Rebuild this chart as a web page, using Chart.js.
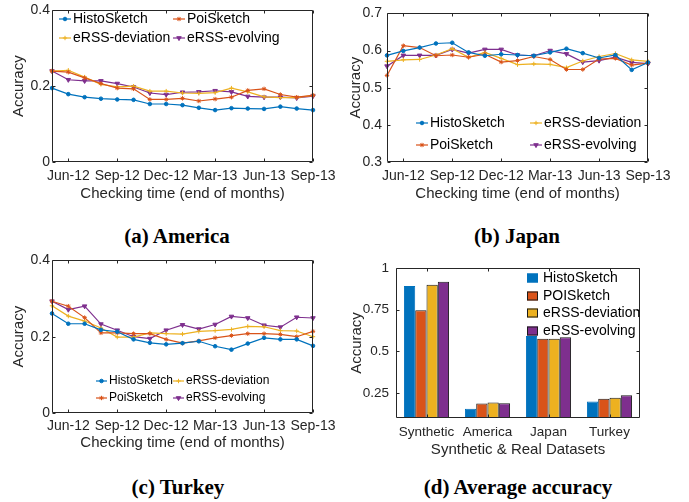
<!DOCTYPE html>
<html>
<head>
<meta charset="utf-8">
<script src="https://cdn.jsdelivr.net/npm/chart.js@4/dist/chart.umd.min.js"></script>
<style>
  html, body { margin: 0; padding: 0; background: #fff; }
  body { width: 689px; height: 502px; position: relative; overflow: hidden; }
  canvas { position: absolute; }
  .cap { position: absolute; width: 320px; text-align: center; font-family: "Liberation Serif", "DejaVu Serif", serif; font-weight: bold; font-size: 21px; color: #000; line-height: 24px; }
</style>
</head>
<body>
<canvas id="ca" width="345" height="205" style="left:0px;top:0px"></canvas>
<canvas id="cb" width="344" height="205" style="left:345px;top:0px"></canvas>
<canvas id="cc" width="345" height="210" style="left:0px;top:250px"></canvas>
<canvas id="cd" width="344" height="210" style="left:345px;top:250px"></canvas>
<div class="cap" style="left:17px;top:224px">(a) America</div>
<div class="cap" style="left:357px;top:224px">(b) Japan</div>
<div class="cap" style="left:18px;top:475px">(c) Turkey</div>
<div class="cap" style="left:358px;top:475px">(d) Average accuracy</div>
<script>
// ---------- data ----------
const months = ['May-12','Jun-12','Jul-12','Aug-12','Sep-12','Oct-12','Nov-12','Dec-12','Jan-13','Feb-13','Mar-13','Apr-13','May-13','Jun-13','Jul-13','Aug-13','Sep-13'];
const monthTicks = ['Jun-12','Sep-12','Dec-12','Mar-13','Jun-13','Sep-13'];
const lineNames = ['HistoSketch','PoiSketch','eRSS-deviation','eRSS-evolving'];
const barNames = ['HistoSketch','POISketch','eRSS-deviation','eRSS-evolving'];

const americaHisto = [0.195,0.179,0.171,0.167,0.165,0.164,0.153,0.153,0.150,0.143,0.137,0.142,0.141,0.140,0.146,0.141,0.137];
const americaPoi   = [0.240,0.237,0.222,0.207,0.195,0.193,0.165,0.165,0.168,0.161,0.166,0.171,0.189,0.193,0.178,0.171,0.176];
const americaDev   = [0.240,0.242,0.224,0.205,0.198,0.200,0.187,0.187,0.182,0.181,0.183,0.195,0.185,0.172,0.170,0.170,0.176];
const americaEvol  = [0.240,0.217,0.214,0.214,0.207,0.198,0.182,0.178,0.184,0.185,0.188,0.185,0.173,0.171,0.171,0.169,0.174];

const japanHisto = [0.587,0.599,0.608,0.619,0.621,0.595,0.586,0.590,0.588,0.586,0.595,0.605,0.593,0.580,0.588,0.548,0.568];
const japanPoi   = [0.533,0.613,0.608,0.586,0.588,0.582,0.590,0.569,0.573,0.584,0.576,0.549,0.549,0.577,0.579,0.561,0.566];
const japanDev   = [0.571,0.575,0.576,0.588,0.605,0.582,0.595,0.579,0.562,0.564,0.563,0.554,0.572,0.584,0.592,0.575,0.571];
const japanEvol  = [0.558,0.587,0.587,0.587,0.603,0.593,0.603,0.603,0.588,0.586,0.600,0.591,0.569,0.573,0.582,0.568,0.565];

const turkeyHisto = [0.261,0.234,0.234,0.218,0.213,0.193,0.184,0.180,0.183,0.188,0.175,0.166,0.182,0.197,0.193,0.193,0.176];
const turkeyPoi   = [0.293,0.280,0.250,0.210,0.210,0.208,0.208,0.193,0.183,0.189,0.197,0.203,0.208,0.208,0.206,0.200,0.214];
const turkeyDev   = [0.281,0.254,0.241,0.223,0.199,0.199,0.210,0.208,0.207,0.214,0.216,0.219,0.227,0.226,0.216,0.215,0.200];
const turkeyEvol  = [0.293,0.271,0.280,0.233,0.217,0.200,0.195,0.217,0.231,0.220,0.232,0.253,0.249,0.230,0.225,0.251,0.249];

const avgCategories = ['Synthetic','America','Japan','Turkey'];
const avgHisto = [0.892,0.155,0.592,0.199];
const avgPoi   = [0.747,0.187,0.576,0.215];
const avgDev   = [0.900,0.193,0.576,0.221];
const avgEvol  = [0.918,0.189,0.584,0.237];

const yTicksAC = [0, 0.2, 0.4];
const yTicksB  = [0.3, 0.4, 0.5, 0.6, 0.7];
const yTicksD  = [0.25, 0.5, 0.75, 1];

// ---------- styling ----------
const COLORS = ['#0072BD','#D95319','#EDB120','#7E2F8E'];
const SANS = '"Liberation Sans", Arial, Helvetica, sans-serif';
const AX = '#262626';

const axesBox = {
  id: 'axesBox',
  afterDatasetsDraw(chart) {
    const {ctx, chartArea: a} = chart;
    const xs = chart.scales.x, ys = chart.scales.y;
    const L = 3;
    const l = Math.round(a.left) + 0.5, r = Math.round(a.right) - 0.5;
    const t = Math.round(a.top) + 0.5, b = Math.round(a.bottom) - 0.5;
    ctx.save();
    ctx.strokeStyle = AX; ctx.lineWidth = 1;
    ctx.beginPath();
    ctx.rect(l, t, r - l, b - t);
    xs.ticks.forEach((tk, i) => {
      const p = Math.round(xs.getPixelForTick(i)) + 0.5;
      ctx.moveTo(p, b); ctx.lineTo(p, b - L);
      ctx.moveTo(p, t); ctx.lineTo(p, t + L);
    });
    ys.ticks.forEach((tk, i) => {
      const p = Math.round(ys.getPixelForTick(i)) + 0.5;
      ctx.moveTo(l, p); ctx.lineTo(l + L, p);
      ctx.moveTo(r, p); ctx.lineTo(r - L, p);
    });
    ctx.stroke();
    ctx.restore();
  }
};

const mLegend = {
  id: 'mLegend',
  afterDraw(chart, args, o) {
    if (!o || !o.items) return;
    const ctx = chart.ctx;
    ctx.save();
    ctx.font = o.font;
    ctx.textBaseline = 'middle';
    ctx.textAlign = 'left';
    o.items.forEach(it => {
      const ds = chart.data.datasets[it.i];
      if (o.kind === 'bar') {
        ctx.fillStyle = ds.backgroundColor;
        ctx.fillRect(it.x, it.y - o.h / 2, o.w, o.h);
        ctx.strokeStyle = it.i === 0 ? ds.backgroundColor : '#1a1a1a';
        ctx.lineWidth = 1;
        ctx.strokeRect(it.x + 0.5, it.y - o.h / 2 + 0.5, o.w - 1, o.h - 1);
      } else {
        ctx.strokeStyle = ds.borderColor;
        ctx.lineWidth = ds.borderWidth;
        ctx.beginPath(); ctx.moveTo(it.x, it.y); ctx.lineTo(it.x + o.w, it.y); ctx.stroke();
        ctx.fillStyle = ds.pointBackgroundColor;
        ctx.strokeStyle = ds.pointBorderColor;
        ctx.lineWidth = 1;
        Chart.helpers.drawPoint(ctx, {pointStyle: ds.pointStyle, rotation: ds.pointRotation || 0, radius: ds.pointRadius, borderWidth: 1}, it.x + o.w / 2, it.y);
      }
      ctx.fillStyle = '#000';
      ctx.fillText(ds.label, it.x + o.w + o.gap, it.y);
    });
    ctx.restore();
  }
};

function lineDatasets(vals) {
  const styles = [
    {pointStyle: 'circle', pointRadius: 1.8, pointRotation: 0},
    {pointStyle: 'star', pointRadius: 2.2, pointRotation: 0},
    {pointStyle: 'cross', pointRadius: 2.2, pointRotation: 0},
    {pointStyle: 'triangle', pointRadius: 2.6, pointRotation: 180}
  ];
  return vals.map((v, i) => Object.assign({
    label: lineNames[i],
    data: v,
    borderColor: COLORS[i],
    backgroundColor: COLORS[i],
    pointBackgroundColor: COLORS[i],
    pointBorderColor: COLORS[i],
    pointBorderWidth: 1,
    borderWidth: 1.2,
    tension: 0,
    fill: false
  }, styles[i]));
}

function lineChart(id, vals, yTicks, g, legend) {
  new Chart(document.getElementById(id), {
    type: 'line',
    data: { labels: months, datasets: lineDatasets(vals) },
    plugins: [axesBox, mLegend],
    options: {
      responsive: false,
      animation: false,
      events: [],
      layout: { padding: { top: g.top, right: g.right, left: 0, bottom: 0 } },
      plugins: { legend: { display: false }, tooltip: { enabled: false }, mLegend: legend },
      scales: {
        x: {
          type: 'category',
          offset: false,
          grid: { display: false, drawTicks: false },
          border: { display: false },
          afterBuildTicks(s) { s.ticks = months.map((m, i) => ({value: i})).filter(t => monthTicks.includes(months[t.value])); },
          afterFit(s) { s.height = g.xh; },
          ticks: { autoSkip: false, maxRotation: 0, minRotation: 0, padding: g.xpad, color: AX, font: { family: SANS, size: 14 } },
          title: { display: true, text: 'Checking time (end of months)', color: AX, font: { family: SANS, size: 15 }, padding: { top: 0, bottom: g.xtpad } }
        },
        y: {
          type: 'linear',
          min: yTicks[0], max: yTicks[yTicks.length - 1],
          grid: { display: false, drawTicks: false },
          border: { display: false },
          afterBuildTicks(s) { s.ticks = yTicks.map(v => ({value: v})); },
          afterFit(s) { s.width = g.yw; },
          ticks: { padding: g.ypad, color: AX, font: { family: SANS, size: 14 }, callback: v => String(v) },
          title: { display: true, text: 'Accuracy', color: AX, font: { family: SANS, size: 15 }, padding: { top: g.ytpad, bottom: 0 } }
        }
      }
    }
  });
}

lineChart('ca', [americaHisto, americaPoi, americaDev, americaEvol], yTicksAC,
  { top: 9, right: 32, xh: 43, xpad: 6, xtpad: 2, yw: 52, ypad: 2, ytpad: 10 },
  { font: '14px ' + SANS, w: 12, gap: 2, items: [
    {i: 0, x: 59, y: 19}, {i: 1, x: 173, y: 19}, {i: 2, x: 59, y: 38}, {i: 3, x: 173, y: 38}] });

lineChart('cb', [japanHisto, japanPoi, japanDev, japanEvol], yTicksB,
  { top: 9, right: 41, xh: 43, xpad: 6, xtpad: 2, yw: 42, ypad: 5, ytpad: 2 },
  { font: '14px ' + SANS, w: 12, gap: 2, items: [
    {i: 0, x: 71, y: 123}, {i: 2, x: 185, y: 123}, {i: 1, x: 71, y: 145}, {i: 3, x: 185, y: 145}] });

lineChart('cc', [turkeyHisto, turkeyPoi, turkeyDev, turkeyEvol], yTicksAC,
  { top: 10, right: 32, xh: 47, xpad: 5, xtpad: 8, yw: 52, ypad: 2, ytpad: 10 },
  { font: '12px ' + SANS, w: 11, gap: 2, items: [
    {i: 0, x: 96, y: 131}, {i: 2, x: 173, y: 131}, {i: 1, x: 96, y: 148}, {i: 3, x: 173, y: 148}] });

// ---------- bar chart ----------
new Chart(document.getElementById('cd'), {
  type: 'bar',
  data: {
    labels: avgCategories,
    datasets: [avgHisto, avgPoi, avgDev, avgEvol].map((v, i) => ({
      label: barNames[i],
      data: v,
      backgroundColor: COLORS[i],
      borderColor: i === 0 ? COLORS[0] : '#1a1a1a',
      borderWidth: 1,
      borderSkipped: 'start',
      categoryPercentage: 0.74,
      barPercentage: 1.0
    }))
  },
  plugins: [axesBox, mLegend],
  options: {
    responsive: false,
    animation: false,
    events: [],
    layout: { padding: { top: 18, right: 49, left: 0, bottom: 0 } },
    plugins: { legend: { display: false }, tooltip: { enabled: false },
      mLegend: { kind: 'bar', font: '14px ' + SANS, w: 11, h: 9, gap: 5, items: [
        {i: 0, x: 182, y: 28}, {i: 1, x: 182, y: 46}, {i: 2, x: 182, y: 63}, {i: 3, x: 182, y: 81}] } },
    scales: {
      x: {
        offset: true,
        grid: { display: false, drawTicks: false },
        border: { display: false },
        afterFit(s) { s.height = 42; },
        ticks: { maxRotation: 0, padding: 6, color: AX, font: { family: SANS, size: 13.5 } },
        title: { display: true, text: 'Synthetic & Real Datasets', color: AX, font: { family: SANS, size: 15 }, padding: { top: 0, bottom: 1 } }
      },
      y: {
        min: 0.1, max: 1,
        grid: { display: false, drawTicks: false },
        border: { display: false },
        afterBuildTicks(s) { s.ticks = yTicksD.map(v => ({value: v})); },
        afterFit(s) { s.width = 51; },
        ticks: { padding: 7, color: AX, font: { family: SANS, size: 13.5 }, callback: v => String(v) },
        title: { display: true, text: 'Accuracy', color: AX, font: { family: SANS, size: 15 }, padding: { top: 3, bottom: 0 } }
      }
    }
  }
});
</script>
</body>
</html>
